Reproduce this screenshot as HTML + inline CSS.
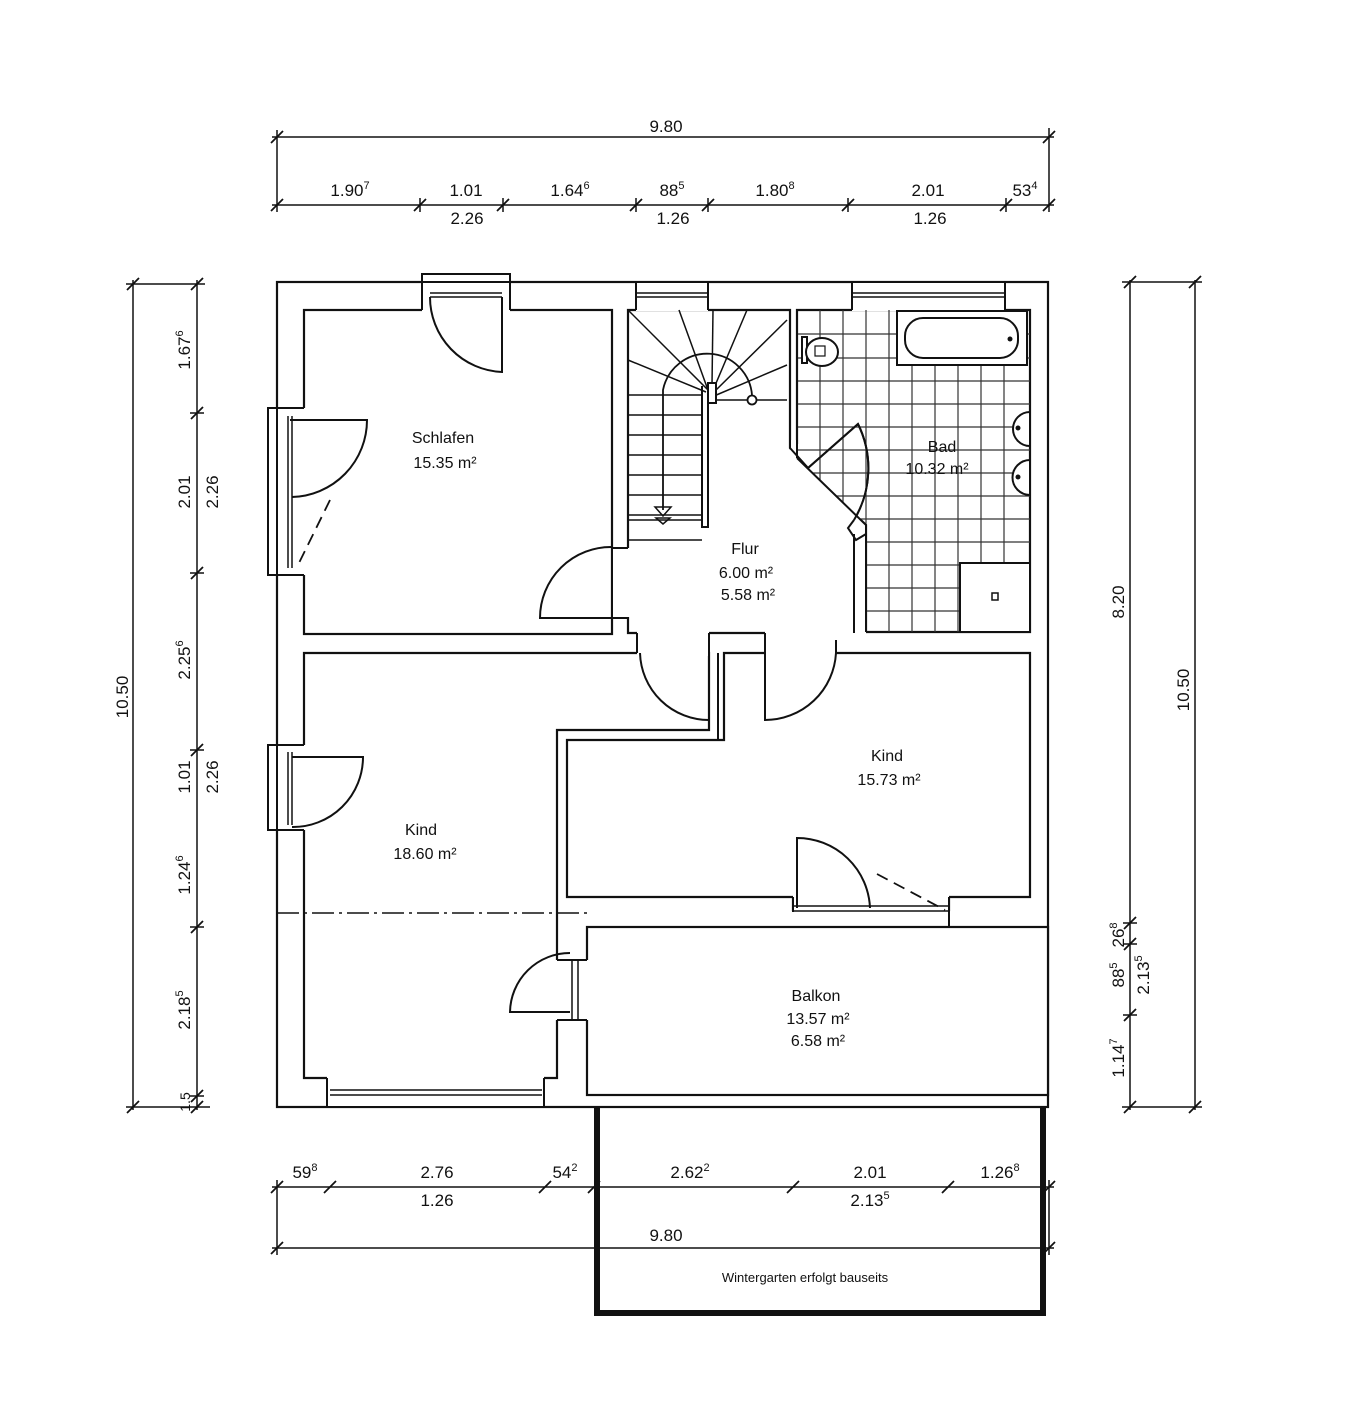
<!DOCTYPE html>
<html><head><meta charset="utf-8"><style>
html,body{margin:0;padding:0;background:#fff;}
svg{display:block;}
text{font-family:"Liberation Sans",Arial,sans-serif;fill:#111;}
.d{font-size:17px;}
.r{font-size:16px;}
</style></head><body>
<svg width="1366" height="1424" viewBox="0 0 1366 1424" xmlns="http://www.w3.org/2000/svg">
<rect width="1366" height="1424" fill="#fff"/>
<g stroke="#111" stroke-width="1.5" fill="none">
<!-- top dimensions -->
<line x1="272" y1="137" x2="1054" y2="137"/>
<line x1="277" y1="130" x2="277" y2="212"/><line x1="1049" y1="128" x2="1049" y2="212"/>
<line x1="272" y1="205" x2="1054" y2="205"/>
<g stroke-width="1.8">
<line x1="271" y1="143" x2="283" y2="131"/><line x1="1043" y1="143" x2="1055" y2="131"/>
<line x1="271" y1="211" x2="283" y2="199"/><line x1="414" y1="211" x2="426" y2="199"/><line x1="497" y1="211" x2="509" y2="199"/><line x1="630" y1="211" x2="642" y2="199"/><line x1="702" y1="211" x2="714" y2="199"/><line x1="842" y1="211" x2="854" y2="199"/><line x1="1000" y1="211" x2="1012" y2="199"/><line x1="1043" y1="211" x2="1055" y2="199"/>
</g>
<line x1="420" y1="198" x2="420" y2="212"/><line x1="503" y1="198" x2="503" y2="212"/><line x1="636" y1="198" x2="636" y2="212"/><line x1="708" y1="198" x2="708" y2="212"/><line x1="848" y1="198" x2="848" y2="212"/><line x1="1006" y1="198" x2="1006" y2="212"/>
<!-- left dimensions -->
<line x1="133" y1="280" x2="133" y2="1110"/><line x1="126" y1="284" x2="205" y2="284"/><line x1="126" y1="1107" x2="210" y2="1107"/>
<line x1="197" y1="280" x2="197" y2="1110"/>
<g stroke-width="1.8">
<line x1="127" y1="290" x2="139" y2="278"/><line x1="127" y1="1113" x2="139" y2="1101"/>
<line x1="191" y1="290" x2="203" y2="278"/><line x1="191" y1="419" x2="203" y2="407"/><line x1="191" y1="579" x2="203" y2="567"/><line x1="191" y1="756" x2="203" y2="744"/><line x1="191" y1="933" x2="203" y2="921"/><line x1="191" y1="1102" x2="203" y2="1090"/><line x1="191" y1="1113" x2="203" y2="1101"/>
</g>
<line x1="190" y1="413" x2="204" y2="413"/><line x1="190" y1="573" x2="204" y2="573"/><line x1="190" y1="750" x2="204" y2="750"/><line x1="190" y1="927" x2="204" y2="927"/><line x1="190" y1="1096" x2="204" y2="1096"/>
<!-- right dimensions -->
<line x1="1130" y1="280" x2="1130" y2="1110"/><line x1="1195" y1="280" x2="1195" y2="1110"/>
<line x1="1122" y1="282" x2="1202" y2="282"/><line x1="1122" y1="1107" x2="1202" y2="1107"/>
<g stroke-width="1.8">
<line x1="1124" y1="288" x2="1136" y2="276"/><line x1="1189" y1="288" x2="1201" y2="276"/>
<line x1="1124" y1="929" x2="1136" y2="917"/><line x1="1124" y1="950" x2="1136" y2="938"/><line x1="1124" y1="1021" x2="1136" y2="1009"/>
<line x1="1124" y1="1113" x2="1136" y2="1101"/><line x1="1189" y1="1113" x2="1201" y2="1101"/>
</g>
<line x1="1123" y1="923" x2="1137" y2="923"/><line x1="1123" y1="944" x2="1137" y2="944"/><line x1="1123" y1="1015" x2="1137" y2="1015"/>
<!-- bottom dimensions -->
<line x1="272" y1="1187" x2="1054" y2="1187"/><line x1="272" y1="1248" x2="1054" y2="1248"/>
<line x1="277" y1="1180" x2="277" y2="1255"/><line x1="1049" y1="1180" x2="1049" y2="1255"/>
<g stroke-width="1.8">
<line x1="271" y1="1193" x2="283" y2="1181"/><line x1="324" y1="1193" x2="336" y2="1181"/><line x1="539" y1="1193" x2="551" y2="1181"/><line x1="588" y1="1193" x2="600" y2="1181"/><line x1="787" y1="1193" x2="799" y2="1181"/><line x1="942" y1="1193" x2="954" y2="1181"/><line x1="1043" y1="1193" x2="1055" y2="1181"/>
<line x1="271" y1="1254" x2="283" y2="1242"/><line x1="1043" y1="1254" x2="1055" y2="1242"/>
</g>
</g>
<!-- dimension text -->
<g class="d" text-anchor="middle">
<text x="666" y="132">9.80</text>
<text x="350" y="196">1.90<tspan font-size="11" dy="-7">7</tspan></text>
<text x="466" y="196">1.01</text>
<text x="570" y="196">1.64<tspan font-size="11" dy="-7">6</tspan></text>
<text x="672" y="196">88<tspan font-size="11" dy="-7">5</tspan></text>
<text x="775" y="196">1.80<tspan font-size="11" dy="-7">8</tspan></text>
<text x="928" y="196">2.01</text>
<text x="1025" y="196">53<tspan font-size="11" dy="-7">4</tspan></text>
<text x="467" y="224">2.26</text><text x="673" y="224">1.26</text><text x="930" y="224">1.26</text>
<text x="305" y="1178">59<tspan font-size="11" dy="-7">8</tspan></text>
<text x="437" y="1178">2.76</text>
<text x="565" y="1178">54<tspan font-size="11" dy="-7">2</tspan></text>
<text x="690" y="1178">2.62<tspan font-size="11" dy="-7">2</tspan></text>
<text x="870" y="1178">2.01</text>
<text x="1000" y="1178">1.26<tspan font-size="11" dy="-7">8</tspan></text>
<text x="437" y="1206">1.26</text>
<text x="870" y="1206">2.13<tspan font-size="11" dy="-7">5</tspan></text>
<text x="666" y="1241">9.80</text>
<text x="805" y="1282" font-size="13">Wintergarten erfolgt bauseits</text>
<text transform="translate(128,697) rotate(-90)">10.50</text>
<text transform="translate(190,350) rotate(-90)">1.67<tspan font-size="11" dy="-7">6</tspan></text>
<text transform="translate(190,492) rotate(-90)">2.01</text>
<text transform="translate(218,492) rotate(-90)">2.26</text>
<text transform="translate(190,660) rotate(-90)">2.25<tspan font-size="11" dy="-7">6</tspan></text>
<text transform="translate(190,777) rotate(-90)">1.01</text>
<text transform="translate(218,777) rotate(-90)">2.26</text>
<text transform="translate(190,875) rotate(-90)">1.24<tspan font-size="11" dy="-7">6</tspan></text>
<text transform="translate(190,1010) rotate(-90)">2.18<tspan font-size="11" dy="-7">5</tspan></text>
<text transform="translate(190,1102) rotate(-90)" font-size="14">1.5</text>
<text transform="translate(1124,602) rotate(-90)">8.20</text>
<text transform="translate(1189,690) rotate(-90)">10.50</text>
<text transform="translate(1124,935) rotate(-90)">26<tspan font-size="11" dy="-7">8</tspan></text>
<text transform="translate(1124,975) rotate(-90)">88<tspan font-size="11" dy="-7">5</tspan></text>
<text transform="translate(1149,975) rotate(-90)">2.13<tspan font-size="11" dy="-7">5</tspan></text>
<text transform="translate(1124,1058) rotate(-90)">1.14<tspan font-size="11" dy="-7">7</tspan></text>
</g>

<!-- wintergarten -->
<path d="M597 1104 V1313 H1043 V1104" fill="none" stroke="#111" stroke-width="6"/>

<!-- building -->
<g stroke="#111" stroke-width="2.2" fill="#fff">
<rect x="277" y="282" width="771" height="825"/>
<!-- Schlafen -->
<rect x="304" y="310" width="308" height="324"/>
<!-- Flur + stair -->
<polygon points="628,310 790,310 790,448 854,520 854,633 628,633"/>
<!-- Bad -->
<polygon points="797,310 1030,310 1030,632 866,632 866,525 797,458"/>
<!-- Kind left -->
<polygon points="304,653 709,653 709,730 557,730 557,1078 304,1078"/>
<!-- Kind right -->
<polygon points="567,740 724,740 724,653 1030,653 1030,897 949,897 949,910 793,910 793,897 567,897"/>
<!-- Balkon -->
<rect x="587" y="927" width="461" height="168"/>
</g>
<!-- openings (white covers) -->
<g fill="#fff" stroke="none">
<rect x="612" y="548" width="20" height="69"/>
<rect x="637" y="630" width="72" height="26"/>
<rect x="765" y="630" width="71" height="26"/>
<rect x="792" y="444" width="70" height="84"/>
<rect x="793" y="895" width="156" height="18"/>
<rect x="555" y="960" width="34" height="60"/>
<rect x="422" y="280" width="88" height="32"/>
<rect x="636" y="283" width="72" height="28"/>
<rect x="852" y="283" width="153" height="28"/>
<rect x="275" y="408" width="31" height="167"/>
<rect x="275" y="745" width="31" height="85"/>
<rect x="327" y="1076" width="217" height="30"/>
</g>
<g stroke="#111" stroke-width="2" fill="none">
<!-- jambs -->
<line x1="612" y1="548" x2="628" y2="548"/><line x1="612" y1="618" x2="628" y2="618"/><line x1="612" y1="618" x2="612" y2="634"/>
<line x1="637" y1="633" x2="637" y2="653"/><line x1="709" y1="633" x2="709" y2="653"/>
<line x1="765" y1="633" x2="765" y2="653"/><line x1="836" y1="633" x2="836" y2="653"/>
<line x1="718" y1="653" x2="718" y2="740"/>
<path d="M790 448 L808 468 L797 458"/>
<path d="M854 520 L848 528 L856 540 L866 534"/>
<line x1="557" y1="960" x2="587" y2="960"/><line x1="557" y1="1020" x2="587" y2="1020"/>
<line x1="572" y1="960" x2="572" y2="1020" stroke-width="1.5"/><line x1="578" y1="960" x2="578" y2="1020" stroke-width="1.5"/>
<line x1="793" y1="897" x2="793" y2="912"/><line x1="949" y1="897" x2="949" y2="927"/>
<line x1="793" y1="906" x2="949" y2="906" stroke-width="1.5"/><line x1="793" y1="911" x2="949" y2="911" stroke-width="1.5"/>
<!-- windows top -->
<rect x="422" y="274" width="88" height="8"/>
<line x1="422" y1="282" x2="422" y2="310"/><line x1="510" y1="282" x2="510" y2="310"/>
<line x1="430" y1="293" x2="502" y2="293" stroke-width="1.5"/><line x1="430" y1="297" x2="502" y2="297" stroke-width="1.5"/>
<line x1="636" y1="282" x2="636" y2="310"/><line x1="708" y1="282" x2="708" y2="310"/>
<line x1="636" y1="293" x2="708" y2="293" stroke-width="1.5"/><line x1="636" y1="297" x2="708" y2="297" stroke-width="1.5"/>
<line x1="852" y1="282" x2="852" y2="310"/><line x1="1005" y1="282" x2="1005" y2="310"/>
<line x1="852" y1="293" x2="1005" y2="293" stroke-width="1.5"/><line x1="852" y1="297" x2="1005" y2="297" stroke-width="1.5"/>
<!-- left windows -->
<rect x="268" y="408" width="9" height="167"/>
<line x1="277" y1="408" x2="304" y2="408"/><line x1="277" y1="575" x2="304" y2="575"/>
<line x1="288" y1="416" x2="288" y2="568" stroke-width="1.5"/><line x1="292" y1="416" x2="292" y2="568" stroke-width="1.5"/>
<rect x="268" y="745" width="9" height="85"/>
<line x1="277" y1="745" x2="304" y2="745"/><line x1="277" y1="830" x2="304" y2="830"/>
<line x1="288" y1="752" x2="288" y2="825" stroke-width="1.5"/><line x1="292" y1="752" x2="292" y2="825" stroke-width="1.5"/>
<!-- bottom window -->
<line x1="327" y1="1078" x2="327" y2="1107"/><line x1="544" y1="1078" x2="544" y2="1107"/>
<line x1="330" y1="1090" x2="542" y2="1090" stroke-width="1.5"/><line x1="330" y1="1095" x2="542" y2="1095" stroke-width="1.5"/>
<!-- doors -->
<path d="M502 297 V372 A75 75 0 0 1 430 297"/>
<path d="M290 420 H367 A77 77 0 0 1 292 497"/>
<path d="M330 500 L298 565" stroke-dasharray="12 7" stroke-width="1.8"/>
<path d="M292 757 H363 A70 70 0 0 1 292 827"/>
<path d="M612 547 V618 H540 A71 71 0 0 1 612 547" />
<path d="M709 653 V720 A69 69 0 0 1 640 653"/>
<path d="M765 653 V720 A71 71 0 0 0 836 653"/>
<path d="M808 468 L858 424 A100 100 0 0 1 854 520"/>
<path d="M797 908 V838 A73 73 0 0 1 870 908"/>
<path d="M877 874 L945 910" stroke-dasharray="12 7" stroke-width="1.8"/>
<path d="M570 1012 H510 A60 60 0 0 1 570 953"/>
</g>
<!-- dash-dot line -->
<line x1="277" y1="913" x2="588" y2="913" stroke="#111" stroke-width="1.5" stroke-dasharray="22 5 3 5"/>

<!-- bath tiles -->
<g stroke="#333" stroke-width="1.2">
<line x1="820" y1="310" x2="820" y2="632"/><line x1="843" y1="310" x2="843" y2="632"/>
<line x1="866" y1="310" x2="866" y2="632"/><line x1="889" y1="310" x2="889" y2="632"/>
<line x1="912" y1="310" x2="912" y2="632"/><line x1="935" y1="310" x2="935" y2="632"/>
<line x1="958" y1="310" x2="958" y2="632"/><line x1="981" y1="310" x2="981" y2="632"/>
<line x1="1004" y1="310" x2="1004" y2="632"/>
<line x1="797" y1="334" x2="1030" y2="334"/><line x1="797" y1="358" x2="1030" y2="358"/>
<line x1="797" y1="381" x2="1030" y2="381"/><line x1="797" y1="404" x2="1030" y2="404"/>
<line x1="797" y1="427" x2="1030" y2="427"/><line x1="797" y1="450" x2="1030" y2="450"/>
<line x1="797" y1="473" x2="1030" y2="473"/><line x1="797" y1="496" x2="1030" y2="496"/>
<line x1="797" y1="519" x2="1030" y2="519"/><line x1="797" y1="542" x2="1030" y2="542"/>
<line x1="797" y1="565" x2="1030" y2="565"/><line x1="797" y1="588" x2="1030" y2="588"/>
<line x1="797" y1="611" x2="1030" y2="611"/>
</g>
<!-- mask tiles outside bath -->
<g fill="#fff" stroke="none">
<polygon points="790,440 790,640 866,640 866,525 797,458 797,440"/>
</g>
<g stroke="#111" stroke-width="2" fill="none">
<line x1="797" y1="310" x2="797" y2="458"/>
<path d="M797 458 L866 525 V632"/>
<path d="M808 468 L858 424 A100 100 0 0 1 854 520"/>
<path d="M790 448 L808 468"/>
<line x1="790" y1="310" x2="790" y2="448"/>
<path d="M854 520 L848 528 L856 540 L866 534"/>
<line x1="854" y1="534" x2="854" y2="633"/>
</g>
<!-- fixtures -->
<g stroke="#111" stroke-width="2" fill="#fff">
<rect x="897" y="311" width="130" height="54"/>
<rect x="905" y="318" width="113" height="40" rx="18"/>
<rect x="802" y="337" width="5" height="26"/>
<ellipse cx="822" cy="352" rx="16" ry="14"/>
<rect x="815" y="346" width="10" height="10" stroke-width="1.2"/>
<path d="M1030 412 A17 17 0 0 0 1030 446 Z"/>
<path d="M1030 460 A17 17 0 0 0 1030 495 Z"/>
<rect x="960" y="563" width="70" height="69"/>
<rect x="992" y="593" width="6" height="7" stroke-width="1.5"/>
</g>
<circle cx="1018" cy="428" r="2.5" fill="#111"/><circle cx="1018" cy="477" r="2.5" fill="#111"/>
<circle cx="1010" cy="339" r="2.5" fill="#111"/>

<!-- stairs -->
<g stroke="#111" fill="none">
<g stroke-width="1.5">
<line x1="628" y1="395" x2="702" y2="395"/><line x1="628" y1="415" x2="702" y2="415"/>
<line x1="628" y1="435" x2="702" y2="435"/><line x1="628" y1="455" x2="702" y2="455"/>
<line x1="628" y1="475" x2="702" y2="475"/><line x1="628" y1="495" x2="702" y2="495"/>
<line x1="628" y1="515" x2="702" y2="515"/><line x1="628" y1="520" x2="702" y2="520"/>
<line x1="628" y1="540" x2="702" y2="540"/>
<line x1="708" y1="390" x2="628" y2="310"/><line x1="708" y1="390" x2="679" y2="310"/>
<line x1="712" y1="385" x2="713" y2="310"/><line x1="714" y1="388" x2="747" y2="310"/>
<line x1="714" y1="392" x2="787" y2="320"/><line x1="714" y1="396" x2="787" y2="365"/>
<line x1="706" y1="392" x2="628" y2="360"/><line x1="716" y1="400" x2="787" y2="400"/>
</g>
<path d="M702 386 V527 H708 V386" stroke-width="2"/>
<rect x="708" y="383" width="8" height="20" fill="#fff" stroke-width="2"/>
<path d="M663 510 V390 A45 45 0 0 1 752 395" stroke-width="1.8"/>
<circle cx="752" cy="400" r="4.5" stroke-width="1.8" fill="#fff"/>
<path d="M655 507 H671 L663 516 Z M656 518 H670 L663 524 Z" stroke-width="1.5"/>
<line x1="628" y1="310" x2="628" y2="548" stroke-width="2"/>
</g>

<!-- room labels -->
<g class="r" text-anchor="middle">
<text x="443" y="443">Schlafen</text><text x="445" y="468">15.35 m²</text>
<text x="942" y="452">Bad</text><text x="937" y="474">10.32 m²</text>
<text x="745" y="554">Flur</text><text x="746" y="578">6.00 m²</text><text x="748" y="600">5.58 m²</text>
<text x="887" y="761">Kind</text><text x="889" y="785">15.73 m²</text>
<text x="421" y="835">Kind</text><text x="425" y="859">18.60 m²</text>
<text x="816" y="1001">Balkon</text><text x="818" y="1024">13.57 m²</text><text x="818" y="1046">6.58 m²</text>
</g>
</svg>
</body></html>
